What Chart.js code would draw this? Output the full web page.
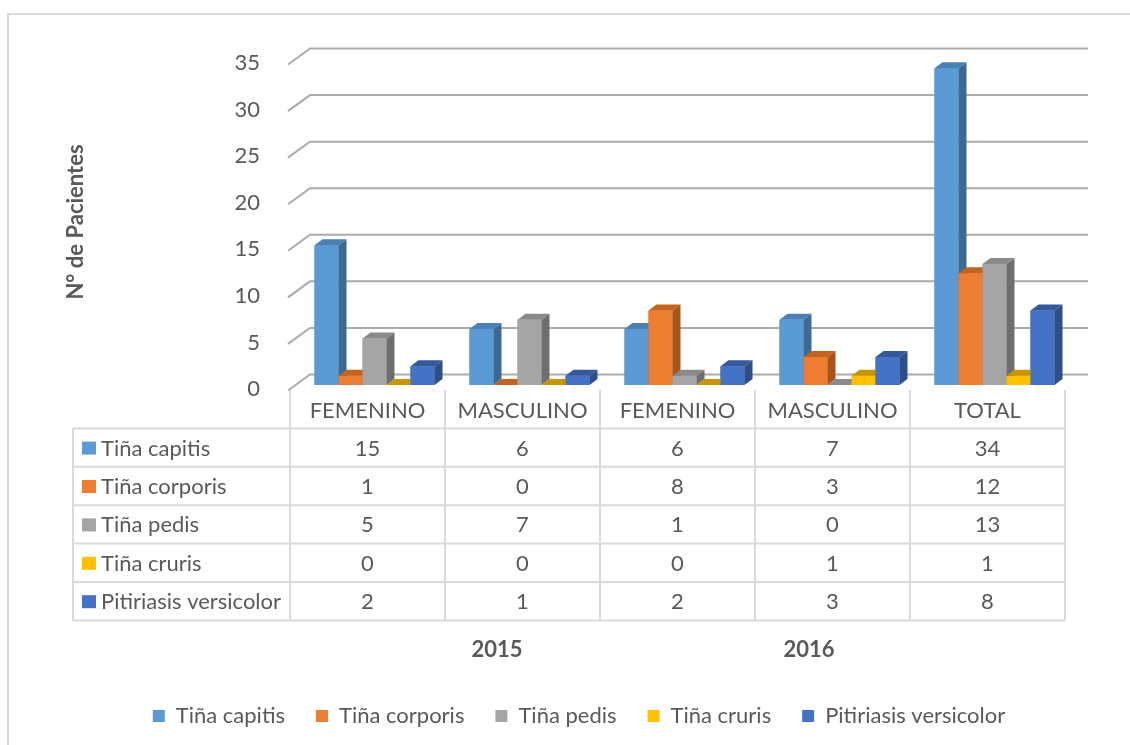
<!DOCTYPE html>
<html>
<head>
<meta charset="utf-8">
<title>Tiñas 2015 - 2016</title>
<script src="https://cdn.jsdelivr.net/npm/chart.js@4.4.1/dist/chart.umd.min.js"></script>
<style>
  html, body { margin: 0; padding: 0; background: #fff; }
  #wrap { width: 1130px; height: 745px; }
</style>
</head>
<body>
<div id="wrap"><canvas id="chart" width="1130" height="745"></canvas></div>
<script>
// Datos
const categories = ['FEMENINO', 'MASCULINO', 'FEMENINO', 'MASCULINO', 'TOTAL'];
const years = ['2015', '2016'];
const seriesNames = ['Tiña capitis', 'Tiña corporis', 'Tiña pedis', 'Tiña cruris', 'Pitiriasis versicolor'];
const capitis = [15, 6, 6, 7, 34];
const corporis = [1, 0, 8, 3, 12];
const pedis = [5, 7, 1, 0, 13];
const cruris = [0, 0, 0, 1, 1];
const versicolor = [2, 1, 2, 3, 8];
const yTicks = [0, 5, 10, 15, 20, 25, 30, 35];

// colores: frente, lado, techo
const palette = [
    ['#5B9BD5', '#3D6A93', '#4A80B4'],
    ['#ED7D31', '#A5561E', '#C2631F'],
    ['#A5A5A5', '#6E6E6E', '#8A8A8A'],
    ['#FFC000', '#B38600', '#C69500'],
    ['#4472C4', '#2D4E87', '#34599A']
];

const FONT = 'Lato, "Open Sans", sans-serif';
const TEXT = '#595959';
const LINE = '#d9d9d9';
const DX = 8, DY = 6;          // profundidad de las barras
const SHIFT = 7;               // desfase de la tabla respecto a las barras

// paredes y líneas de división en perspectiva
const walls = {
    id: 'walls',
    beforeDraw(chart) {
        const ctx = chart.ctx;
        ctx.save();
        ctx.fillStyle = '#fff';
        ctx.fillRect(0, 0, chart.width, chart.height);
        ctx.strokeStyle = LINE;
        ctx.lineWidth = 2;
        ctx.strokeRect(8, 14, chart.width + 20, chart.height + 20);
        ctx.restore();
    },
    beforeDatasetsDraw(chart) {
        const ctx = chart.ctx;
        const ys = chart.scales.y;
        const area = chart.chartArea;
        const fx = area.left - 9, bx = area.left + 13, rx = area.right + 16;
        ctx.save();
        ctx.lineWidth = 2;
        ctx.strokeStyle = '#ababab';
        yTicks.forEach(v => {
            const py = ys.getPixelForValue(v);
            ctx.beginPath();
            ctx.moveTo(fx, py + 5.5);
            ctx.lineTo(bx, py - 10.5);
            ctx.lineTo(rx, py - 10.5);
            ctx.stroke();
        });
        ctx.restore();
    }
};

// barras con caras laterales y superiores, de izquierda a derecha
const bars3d = {
    id: 'bars3d',
    afterDatasetsDraw(chart) {
        const ctx = chart.ctx;
        ctx.save();
        chart.data.datasets.forEach((ds, i) => {
            const shades = palette[i];
            chart.getDatasetMeta(i).data.forEach(bar => {
                const {x, y, base, width} = bar.getProps(['x', 'y', 'base', 'width'], true);
                const l = x - width / 2, r = x + width / 2;
                bar.draw(ctx, chart.chartArea);
                ctx.fillStyle = shades[1];
                ctx.beginPath();
                ctx.moveTo(r, y);
                ctx.lineTo(r + DX, y - DY);
                ctx.lineTo(r + DX, base - DY);
                ctx.lineTo(r, base);
                ctx.closePath();
                ctx.fill();
                ctx.fillStyle = shades[2];
                ctx.beginPath();
                ctx.moveTo(l, y);
                ctx.lineTo(l + DX, y - DY);
                ctx.lineTo(r + DX, y - DY);
                ctx.lineTo(r, y);
                ctx.closePath();
                ctx.fill();
            });
        });
        ctx.restore();
    }
};

// tabla de datos bajo el gráfico
const dataTable = {
    id: 'dataTable',
    afterDraw(chart) {
        const ctx = chart.ctx;
        const xs = chart.scales.x;
        const area = chart.chartArea;
        const colW = xs.getPixelForValue(1) - xs.getPixelForValue(0);
        const edges = categories.map((c, i) => xs.getPixelForValue(i) - colW / 2 - SHIFT);
        edges.push(edges[edges.length - 1] + colW);
        const left = 73;
        const headTop = area.bottom + 5;
        const rowH = 38.4;
        const rowTops = chart.data.datasets.map((d, i) => headTop + rowH * (i + 1));
        const bottom = headTop + rowH * (chart.data.datasets.length + 1);

        ctx.save();
        ctx.strokeStyle = LINE;
        ctx.lineWidth = 2;
        ctx.beginPath();
        edges.forEach(ex => { ctx.moveTo(ex, headTop); ctx.lineTo(ex, bottom); });
        ctx.moveTo(left, rowTops[0]);
        ctx.lineTo(left, bottom);
        rowTops.concat([bottom]).forEach(ry => { ctx.moveTo(left, ry); ctx.lineTo(edges[edges.length - 1], ry); });
        ctx.stroke();

        ctx.fillStyle = TEXT;
        ctx.font = '22px ' + FONT;
        ctx.textAlign = 'center';
        ctx.textBaseline = 'middle';
        categories.forEach((c, i) => ctx.fillText(c, edges[i] + colW / 2, headTop + rowH / 2 + 2));

        chart.data.datasets.forEach((ds, r) => {
            const cy = rowTops[r] + rowH / 2 + 1;
            ctx.fillStyle = palette[r][0];
            ctx.fillRect(82, cy - 7, 14, 13);
            ctx.fillStyle = TEXT;
            ctx.textAlign = 'left';
            ctx.fillText(ds.label, 101, cy);
            ctx.textAlign = 'center';
            ds.data.forEach((v, i) => ctx.fillText(String(v), edges[i] + colW / 2, cy));
        });

        // años
        ctx.font = 'bold 22px ' + FONT;
        ctx.fillText(years[0], edges[1] + 52, area.bottom + 265);
        ctx.fillText(years[1], edges[3] + 54, area.bottom + 265);
        ctx.restore();
    }
};

const seriesValues = [capitis, corporis, pedis, cruris, versicolor];

new Chart(document.getElementById('chart'), {
    type: 'bar',
    data: {
        labels: categories,
        datasets: seriesNames.map((name, i) => ({
            label: name,
            data: seriesValues[i],
            backgroundColor: palette[i][0],
            borderWidth: 0,
            categoryPercentage: 120 / 155,
            barPercentage: 1
        }))
    },
    options: {
        responsive: false,
        animation: false,
        layout: { padding: { left: 58, right: 30, top: 59, bottom: 8 } },
        plugins: {
            legend: {
                position: 'bottom',
                maxHeight: 73,
                labels: {
                    boxWidth: 12,
                    boxHeight: 12,
                    padding: 31,
                    color: TEXT,
                    font: { family: FONT, size: 22 }
                }
            },
            tooltip: { enabled: false }
        },
        scales: {
            x: {
                grid: { display: false },
                border: { display: false },
                ticks: { display: false },
                afterFit(scale) { scale.height = 289; }
            },
            y: {
                min: 0,
                max: 35,
                grid: { display: false },
                border: { display: false },
                afterBuildTicks(scale) { scale.ticks = yTicks.map(v => ({ value: v })); },
                afterFit(scale) { scale.width = 239; },
                ticks: {
                    padding: 29,
                    labelOffset: 4,
                    color: TEXT,
                    font: { family: FONT, size: 22 }
                },
                title: {
                    display: true,
                    text: 'N° de Pacientes',
                    color: TEXT,
                    padding: { top: 5, bottom: 0 },
                    font: { family: FONT, size: 22, weight: 'bold' }
                }
            },
            yRight: {
                position: 'right',
                grid: { display: false },
                border: { display: false },
                ticks: { display: false },
                afterFit(scale) { scale.width = 28; }
            }
        }
    },
    plugins: [walls, bars3d, dataTable]
});
</script>
</body>
</html>
